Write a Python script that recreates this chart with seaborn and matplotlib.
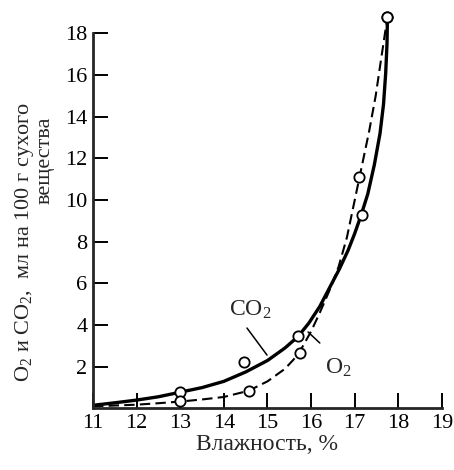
import matplotlib
matplotlib.use("Agg")
import matplotlib.pyplot as plt
import seaborn as sns
import pandas as pd

# ---- data ----
co2_curve_x = [11.0, 11.5, 12.0, 12.5, 13.0, 13.5, 14.0, 14.5, 15.0, 15.4, 15.7, 15.95, 16.2, 16.4, 16.65, 16.85, 17.0, 17.15, 17.3, 17.45, 17.58, 17.66, 17.71, 17.74, 17.75]
co2_curve_y = [0.15, 0.27, 0.40, 0.56, 0.78, 1.00, 1.30, 1.75, 2.30, 2.90, 3.45, 4.10, 4.90, 5.70, 6.70, 7.60, 8.40, 9.30, 10.3, 11.7, 13.2, 14.6, 16.1, 17.5, 18.8]

o2_curve_x = [11.0, 12.0, 12.5, 13.0, 13.5, 14.0, 14.57, 15.0, 15.4, 15.6, 15.8, 16.0, 16.2, 16.45, 16.63, 16.82, 17.01, 17.16, 17.33, 17.48, 17.60, 17.75]
o2_curve_y = [0.10, 0.18, 0.25, 0.33, 0.43, 0.55, 0.85, 1.30, 1.90, 2.35, 2.95, 3.70, 4.60, 5.80, 6.80, 8.20, 10.1, 11.6, 13.3, 15.0, 16.7, 18.8]

co2_obs_x = [13.0, 14.46, 15.7, 17.16, 17.75]
co2_obs_y = [0.80, 2.25, 3.50, 9.30, 18.8]

o2_obs_x = [13.0, 14.57, 15.75, 17.1, 17.75]
o2_obs_y = [0.35, 0.85, 2.65, 11.1, 18.8]

x_ticks = [11, 12, 13, 14, 15, 16, 17, 18, 19]
y_ticks = [2, 4, 6, 8, 10, 12, 14, 16, 18]

x_label = "Влажность, %"
y_label_1 = "O$_2$ и CO$_2$,  мл на 100 г сухого"
y_label_2 = "вещества"

sns.set_style("ticks")
plt.rcParams["font.family"] = ["Liberation Serif", "DejaVu Serif"]
plt.rcParams["mathtext.fontset"] = "custom"
plt.rcParams["mathtext.rm"] = "Liberation Serif"
plt.rcParams["mathtext.it"] = "Liberation Serif"

fig = plt.figure(figsize=(4.54, 4.70), dpi=100)
ax = fig.add_axes([0.2048, 0.131, 0.7687, 0.851])

co2_df = pd.DataFrame({"x": co2_curve_x, "y": co2_curve_y})
o2_df = pd.DataFrame({"x": o2_curve_x, "y": o2_curve_y})

sns.lineplot(data=co2_df, x="x", y="y", ax=ax, color="black", lw=2.4,
             sort=False, estimator=None)
sns.lineplot(data=o2_df, x="x", y="y", ax=ax, color="black", lw=1.5,
             sort=False, estimator=None, dashes=False)
ax.lines[-1].set_dashes([5, 2.5])
for ln in ax.lines:
    ln.set_solid_joinstyle("round")
    ln.set_dash_joinstyle("round")

for xs, ys in ((co2_obs_x, co2_obs_y), (o2_obs_x, o2_obs_y)):
    sns.scatterplot(x=xs, y=ys, ax=ax, marker="o", s=55, facecolor="white",
                    edgecolor="black", linewidth=1.3, zorder=5)

ax.set_xlim(11, 19)
ax.set_ylim(0, 19.2)
ax.spines["left"].set_bounds(0, 18)
sns.despine(ax=ax)
for s in ("left", "bottom"):
    ax.spines[s].set_linewidth(2.0)

ax.set_xticks(x_ticks)
ax.set_xticklabels([str(v) for v in x_ticks])
ax.set_yticks(y_ticks)
ax.set_yticklabels([str(v) for v in y_ticks])
ax.tick_params(axis="both", direction="in", length=11, width=1.4,
               labelsize=16, colors="black", pad=4)
ax.set_xlabel(x_label, fontsize=17, labelpad=1)
ax.set_ylabel("")

# annotations
ax.text(14.6, 4.75, "CO$_2$", fontsize=17, ha="center", va="center")
ax.plot([14.53, 14.99], [3.86, 2.56], color="black", lw=1.1)
ax.text(16.62, 1.95, "O$_2$", fontsize=17, ha="center", va="center")
ax.plot([16.2, 15.93], [3.14, 3.67], color="black", lw=1.1)

fig.text(0.055, 0.485, y_label_1, rotation=90, fontsize=16,
         ha="center", va="center")
fig.text(0.099, 0.66, y_label_2, rotation=90, fontsize=16,
         ha="center", va="center")

fig.savefig("out.png", dpi=100, facecolor="white")
